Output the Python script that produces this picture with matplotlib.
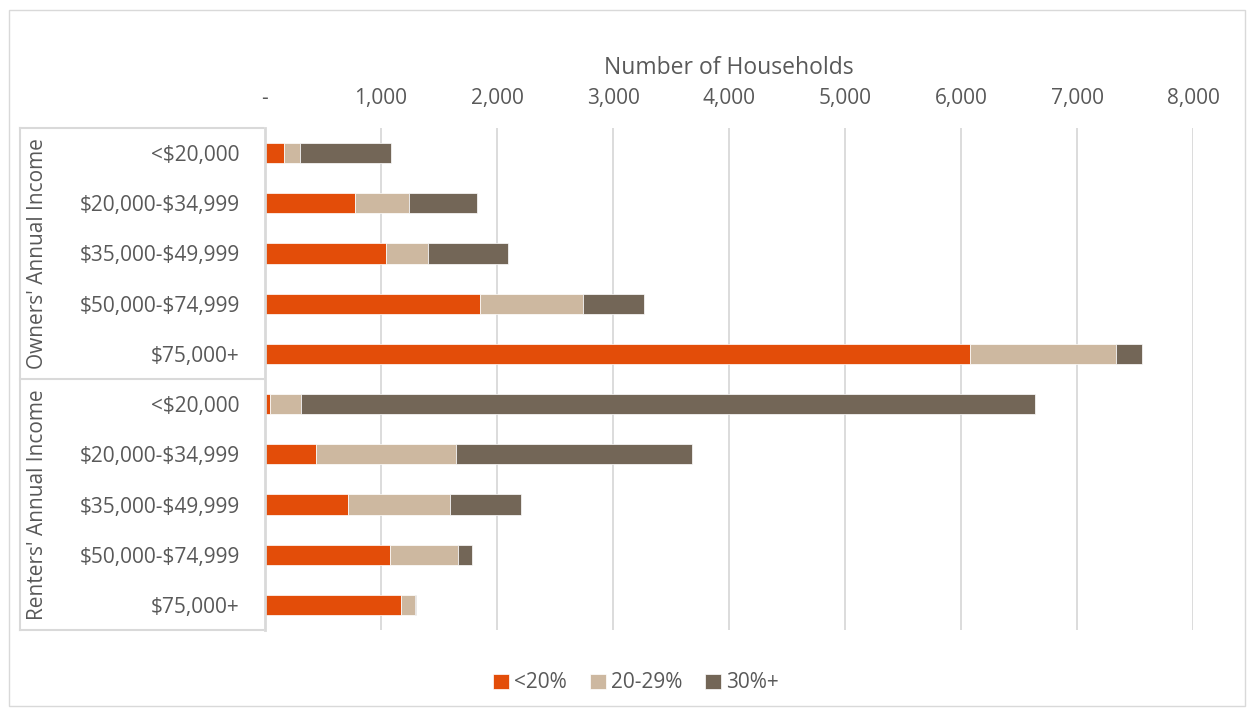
import numpy as np
import matplotlib; matplotlib.use("Agg")
import matplotlib.pyplot as plt
from matplotlib.lines import Line2D
from matplotlib.patches import Rectangle
from matplotlib.ticker import FuncFormatter

plt.rcParams['font.family'] = ['Open Sans', 'DejaVu Sans']

incomes = [r"<\$20,000", r"\$20,000-\$34,999", r"\$35,000-\$49,999", r"\$50,000-\$74,999", r"\$75,000+"]
groups = ["Owners' Annual Income", "Renters' Annual Income"]
series = ["<20%", "20-29%", "30%+"]
colors = ["#E34D09", "#CDB8A0", "#736657"]

# owners then renters, each in income order
lt20 = [166, 777, 1040, 1857, 6079, 43, 439, 714, 1075, 1169]
p20_29 = [135, 467, 364, 883, 1258, 269, 1209, 883, 590, 121]
p30 = [788, 582, 688, 530, 224, 6326, 2032, 610, 121, 11]

GREY = "#595959"
LINE = "#D9D9D9"

fig = plt.figure(figsize=(12.52, 7.15), dpi=100)
ax = fig.add_axes([265/1252, 1-630/715, (1193-265)/1252, (630-128)/715])

n = len(lt20)
y = np.arange(n)
left = np.zeros(n)
for vals, lab, col in zip((lt20, p20_29, p30), series, colors):
    ax.barh(y, vals, left=left, height=0.4, color=col, label=lab,
            edgecolor="white", linewidth=0.5)
    left = left + np.array(vals)

ax.set_ylim(n - 0.5, -0.5)
ax.set_xlim(0, 8000)
ax.set_xticks(np.arange(0, 8001, 1000))
ax.xaxis.set_major_formatter(FuncFormatter(lambda v, p: "-" if v == 0 else f"{int(v):,}"))
ax.xaxis.tick_top()
ax.xaxis.set_label_position("top")
ax.set_xlabel("Number of Households", fontsize=16.5, color=GREY, labelpad=10)
ax.tick_params(axis="x", length=0, labelsize=15, labelcolor=GREY, pad=14)
ax.set_yticks(y)
ax.set_yticklabels(incomes * 2, fontsize=15, color=GREY)
ax.tick_params(axis="y", length=0, pad=18)
ax.grid(axis="x", color=LINE, lw=1.3)
ax.set_axisbelow(True)
for s in ("top", "right", "bottom"):
    ax.spines[s].set_visible(False)
ax.spines["left"].set_color(LINE)
ax.spines["left"].set_linewidth(2)

# group brackets on the left
def fx(px): return px / 1252
def fy(py): return 1 - py / 715
for py in (128, 379, 630):
    fig.add_artist(Line2D([fx(20), fx(263)], [fy(py), fy(py)], color=LINE, lw=1.5))
fig.add_artist(Line2D([fx(20), fx(20)], [fy(128), fy(630)], color=LINE, lw=1.5))
for g, (top, bot) in zip(groups, ((128, 379), (379, 630))):
    fig.text(fx(38), fy((top + bot) / 2), g, rotation=90, ha="center", va="center",
             fontsize=15, color=GREY)

# outer chart border
fig.add_artist(Rectangle((fx(9), fy(706)), fx(1236), (706 - 10) / 715, transform=fig.transFigure,
                         fill=False, edgecolor=LINE, lw=1))

fig.legend(loc="center", bbox_to_anchor=(fx(636), fy(683)), ncol=3, frameon=False,
           fontsize=15, labelcolor=GREY, handlelength=0.75, handleheight=0.75,
           handletextpad=0.25, columnspacing=1.1)

fig.savefig("out.png", dpi=100)
